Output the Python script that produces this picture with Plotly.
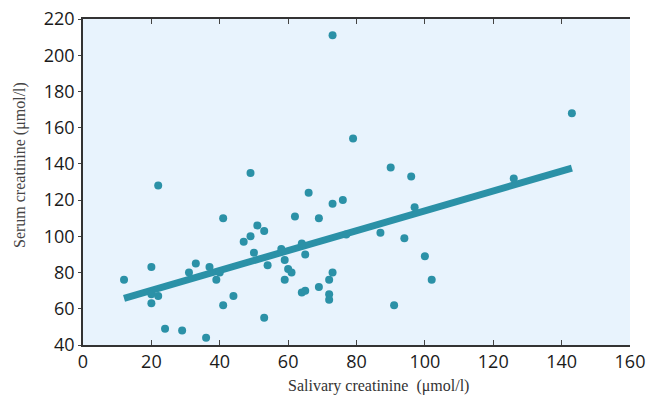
import numpy as np
import plotly.graph_objects as go

# Salivary creatinine (x) vs serum creatinine (y), µmol/l
salivary = [12, 22, 20, 20, 20, 22, 24, 29, 36, 31, 33, 37, 39, 40, 41, 41, 44,
            47, 49, 51, 53, 49, 50, 54, 53, 58, 59, 60, 61, 59, 62, 64, 65, 64,
            65, 66, 69, 69, 73, 76, 73, 72, 72, 72, 77, 87, 90, 96, 94, 97, 100,
            102, 91, 143, 126, 73, 79]
serum = [76, 128, 83, 68, 63, 67, 49, 48, 44, 80, 85, 83, 76, 80, 110, 62, 67,
         97, 100, 106, 103, 135, 91, 84, 55, 93, 87, 82, 80, 76, 111, 96, 90, 69,
         70, 124, 110, 72, 118, 120, 80, 76, 68, 65, 101, 102, 138, 133, 99, 116, 89,
         76, 62, 168, 132, 211, 154]

# Regression line as printed on the chart
fit_slope = 0.549
fit_intercept = 59.2

x_ticks = [0, 20, 40, 60, 80, 100, 120, 140, 160]
y_ticks = [40, 60, 80, 100, 120, 140, 160, 180, 200, 220]

teal = "#2b91a7"

fig = go.Figure()
fx = np.array([min(salivary), max(salivary)])
fig.add_trace(go.Scatter(x=fx, y=fit_slope * fx + fit_intercept, mode="lines",
                         line=dict(color=teal, width=7), hoverinfo="skip",
                         showlegend=False))
fig.add_trace(go.Scatter(x=salivary, y=serum, mode="markers",
                         marker=dict(color=teal, size=8), showlegend=False))

tick_font = dict(family="Open Sans", size=18, color="#1a1a1a")
fig.update_layout(
    width=646, height=398,
    margin=dict(l=83, r=16, t=19, b=53, autoexpand=False),
    paper_bgcolor="white", plot_bgcolor="#e8f3fd",
    xaxis=dict(range=[0, 160], tickvals=x_ticks, showgrid=False, zeroline=False,
               showline=True, linecolor="#333", linewidth=1.5, mirror="ticks",
               ticks="inside", ticklen=5, tickcolor="#444", tickfont=tick_font,
               automargin=False),
    yaxis=dict(range=[40, 220], tickvals=y_ticks, showgrid=False, zeroline=False,
               showline=True, linecolor="#333", linewidth=1.5,
               ticks="outside", ticklen=3, tickcolor="#444", tickfont=tick_font,
               automargin=False),
    annotations=[
        dict(text="Salivary creatinine  (μmol/l)", xref="paper", yref="paper",
             x=(378 - 83) / (646 - 83 - 16), y=-(386 - 345) / (345 - 19),
             xanchor="center", yanchor="middle", showarrow=False,
             font=dict(family="Liberation Serif", size=16, color="#333")),
        dict(text="Serum creatinine (μmol/l)", xref="paper", yref="paper",
             x=-(83 - 20) / (646 - 83 - 16), y=(345 - 165) / (345 - 19),
             xanchor="center", yanchor="middle", showarrow=False, textangle=-90,
             font=dict(family="Liberation Serif", size=16, color="#444")),
    ],
)

fig.write_html("out.html")
